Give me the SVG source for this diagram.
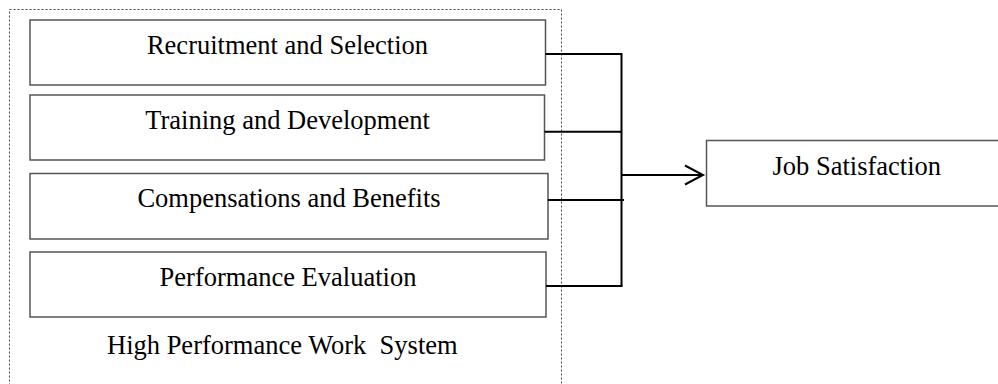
<svg xmlns="http://www.w3.org/2000/svg" width="998" height="384" viewBox="0 0 998 384">
<style>
.box{fill:#fff;stroke:#555;stroke-width:1.5}
.lbl{font-family:"Liberation Serif","Times New Roman",serif;font-size:26.5px;fill:#000}
.con{fill:none;stroke:#000;stroke-width:2}
</style>
<g id="system">
<rect x="9.5" y="9.5" width="552" height="390" fill="none" stroke="#444" stroke-width="1" stroke-dasharray="2,2"/>
<text class="lbl" x="107" y="354" xml:space="preserve">High Performance Work  System</text>
</g>
<g id="recruitment">
<rect class="box" x="30" y="20" width="515.5" height="65"/>
<text class="lbl" x="287.5" y="54" text-anchor="middle">Recruitment and Selection</text>
</g>
<g id="training">
<rect class="box" x="30" y="95" width="514.5" height="65"/>
<text class="lbl" x="287.5" y="129" text-anchor="middle">Training and Development</text>
</g>
<g id="compensation">
<rect class="box" x="30" y="173.5" width="518" height="65.5"/>
<text class="lbl" x="289" y="207" text-anchor="middle">Compensations and Benefits</text>
</g>
<g id="performance">
<rect class="box" x="30" y="252" width="516" height="65"/>
<text class="lbl" x="288" y="286" text-anchor="middle">Performance Evaluation</text>
</g>
<g id="job">
<rect class="box" x="706.5" y="140.5" width="300" height="65.5"/>
<text class="lbl" x="772.5" y="174.5">Job Satisfaction</text>
</g>
<g id="connectors">
<path class="con" d="M545.5 54 H621.5 V286.5"/>
<path class="con" d="M544.5 131.7 H621.5"/>
<path class="con" d="M548 200 H624"/>
<path class="con" d="M546 286 H622.5"/>
<path class="con" d="M621.5 175 H702"/>
<path class="con" d="M685 165.5 L703 175 L685 184.5"/>
</g>
</svg>
